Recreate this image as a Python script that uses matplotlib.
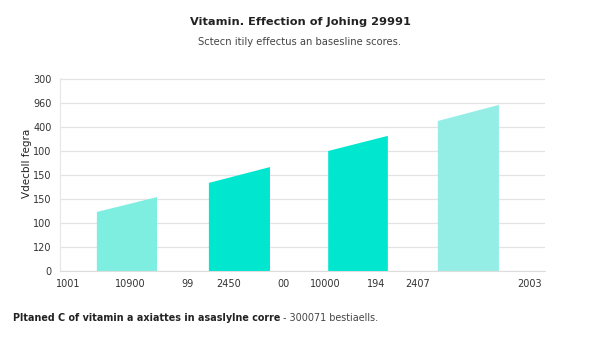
import numpy as np
import matplotlib.pyplot as plt
from matplotlib.patches import Polygon

# y axis: evenly spaced gridlines carrying these labels (bottom -> top)
y_labels = ['0', '120', '100', '150', '150', '100', '400', '960', '300']

# x tick labels and where they sit (axis runs 0..100)
x_labels = ['1001', '10900', '99', '2450', '00', '10000', '194', '2407', '2003']
x_ticks = [1.6, 14.4, 26.2, 34.8, 46.0, 54.6, 65.2, 73.8, 96.9]

# slanted bars: left/right edges and heights at each edge (grid units)
bar_left = [7.6, 30.7, 55.3, 77.9]
bar_right = [20.0, 43.3, 67.6, 90.5]
top_left = [2.46, 3.67, 5.00, 6.25]
top_right = [3.08, 4.33, 5.63, 6.92]
bar_colors = ['#7eeee0', '#00e6cf', '#00e6cf', '#94eee6']

fig = plt.figure(figsize=(6, 3.38), dpi=100)
ax = fig.add_axes([60 / 600, 1 - 271 / 338, 485 / 600, 193 / 338])

for xl, xr, hl, hr, c in zip(bar_left, bar_right, top_left, top_right, bar_colors):
    ax.add_patch(Polygon([(xl, 0), (xr, 0), (xr, hr), (xl, hl)],
                         closed=True, color=c, lw=0, zorder=2))

ax.set_xlim(0, 100)
ax.set_ylim(0, len(y_labels) - 1 + 0.04)
ax.set_yticks(np.arange(len(y_labels)))
ax.set_yticklabels(y_labels)
ax.set_xticks(x_ticks)
ax.set_xticklabels(x_labels)
ax.tick_params(axis='both', labelsize=7, colors='#333333', length=0)
ax.tick_params(axis='x', pad=6)
ax.tick_params(axis='y', pad=6)
ax.grid(axis='y', color='#e3e3e3', lw=0.9, zorder=0)
ax.set_axisbelow(True)
for s in ['top', 'right']:
    ax.spines[s].set_visible(False)
ax.spines['left'].set_color('#e6e6e6')
ax.spines['bottom'].set_color('#dddddd')
ax.set_ylabel('Vdecbll fegra', fontsize=7.5, color='#222222')
ax.yaxis.set_label_coords(-28 / 485, 0.56)

fig.text(0.5, 1 - 22 / 338, 'Vitamin. Effection of Johing 29991', ha='center',
         va='center', fontsize=8.2, fontweight='bold', color='#222222')
fig.text(0.5, 1 - 42 / 338, 'Sctecn itily effectus an basesline scores.', ha='center',
         va='center', fontsize=7.2, color='#444444')

t = fig.text(13 / 600, 1 - 318 / 338, 'Pltaned C of vitamin a axiattes in asaslylne corre',
             ha='left', va='center', fontsize=6.9, fontweight='bold', color='#222222')
fig.canvas.draw()
bb = t.get_window_extent()
fig.text(bb.x1 / 600 + 0.004, 1 - 318 / 338, '- 300071 bestiaells.', ha='left',
         va='center', fontsize=6.9, color='#444444')

fig.savefig('out.png', dpi=100)
